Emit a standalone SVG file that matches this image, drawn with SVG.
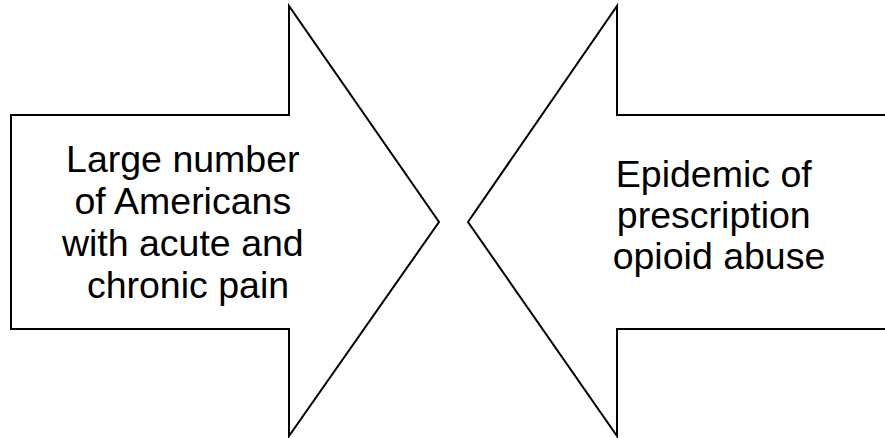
<svg xmlns="http://www.w3.org/2000/svg" width="885" height="438" viewBox="0 0 885 438">
  <style>
    .arrow { fill: #ffffff; stroke: #000000; stroke-width: 2; stroke-linejoin: miter; }
    .label { font-family: "Liberation Sans", Arial, sans-serif; font-size: 37.5px; fill: #000000; text-anchor: middle; }
  </style>
  <rect width="885" height="438" fill="#ffffff"/>
  <!-- Left block arrow pointing right -->
  <g id="pain-arrow">
    <polygon class="arrow" points="11,115 289,115 289,6 439,222 289,436 289,329 11,329"/>
    <text class="label">
      <tspan x="188" y="172">Large number</tspan>
      <tspan x="188" y="214">of Americans</tspan>
      <tspan x="188" y="256">with acute and</tspan>
      <tspan x="188" y="298">chronic pain</tspan>
    </text>
  </g>
  <!-- Right block arrow pointing left -->
  <g id="abuse-arrow">
    <polygon class="arrow" points="895,115 617,115 617,6 468,222 617,436 617,329 895,329"/>
    <text class="label">
      <tspan x="719" y="187">Epidemic of</tspan>
      <tspan x="719" y="228">prescription</tspan>
      <tspan x="719" y="269">opioid abuse</tspan>
    </text>
  </g>
  <g id="connectors"/>
</svg>
